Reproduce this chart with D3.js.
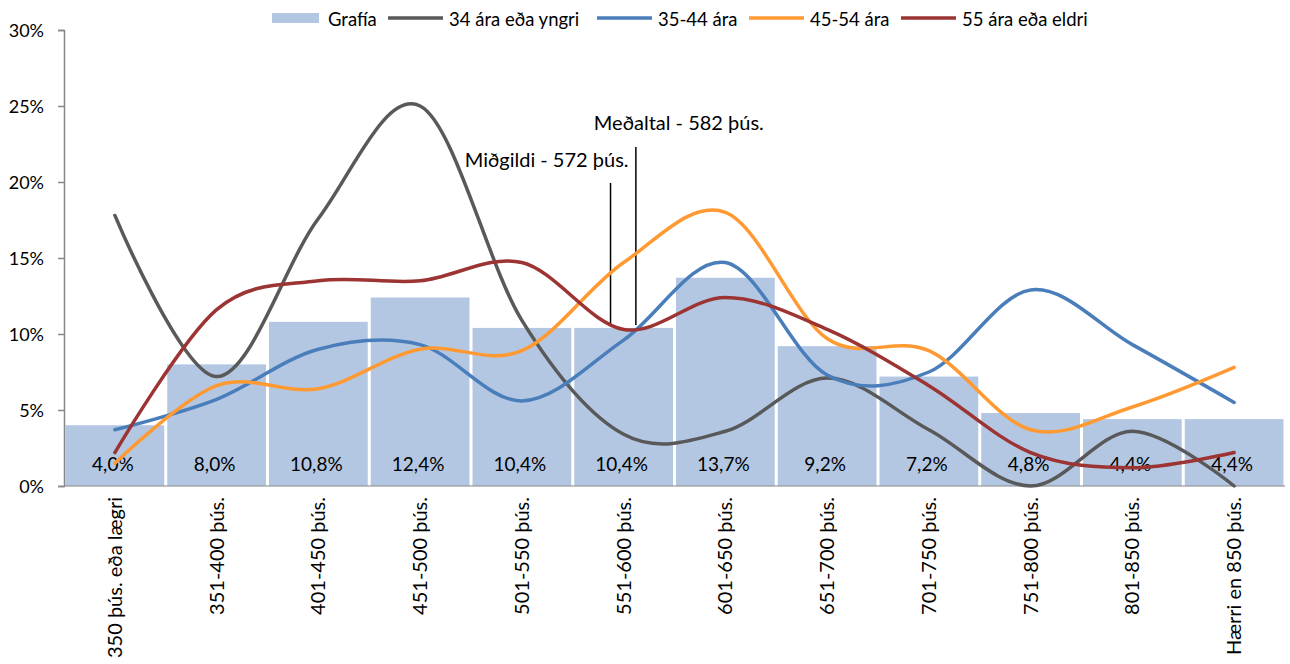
<!DOCTYPE html>
<html>
<head>
<meta charset="utf-8">
<script src="https://cdn.jsdelivr.net/npm/d3@7"></script>
<style>
  body { margin: 0; background: #fff; }
  text { font-family: Lato, "Open Sans", sans-serif; fill: #000; }
</style>
</head>
<body>
<div id="chart"></div>
<script>
var categories = ["350 þús. eða lægri", "351-400 þús.", "401-450 þús.", "451-500 þús.", "501-550 þús.", "551-600 þús.",
  "601-650 þús.", "651-700 þús.", "701-750 þús.", "751-800 þús.", "801-850 þús.", "Hærri en 850 þús."];
var grafia = [4.0, 8.0, 10.8, 12.4, 10.4, 10.4, 13.7, 9.2, 7.2, 4.8, 4.4, 4.4];
var age34 = [17.8, 7.2, 17.6, 25.0, 10.9, 3.4, 3.6, 7.1, 3.7, 0, 3.6, 0];
var age35 = [3.7, 5.7, 9.0, 9.3, 5.6, 9.6, 14.7, 7.3, 7.5, 12.9, 9.3, 5.5];
var age45 = [1.5, 6.6, 6.4, 9.0, 8.9, 14.7, 18.0, 9.7, 8.9, 3.7, 5.2, 7.8];
var age55 = [2.2, 11.6, 13.5, 13.5, 14.7, 10.3, 12.4, 10.3, 6.6, 2.2, 1.2, 2.2];
var yTicks = [0, 5, 10, 15, 20, 25, 30];
var seriesNames = ["34 ára eða yngri", "35-44 ára", "45-54 ára", "55 ára eða eldri"];
var seriesColors = ["#595959", "#4a7ebb", "#ff9a33", "#9b3432"];
var annotations = [
  {label: "Miðgildi - 572 þús.", value: 572},
  {label: "Meðaltal - 582 þús.", value: 582}
];

var W = 1290, H = 664;
var margin = {top: 30, right: 5, bottom: 178, left: 64},
    width = W - margin.left - margin.right,
    height = H - margin.top - margin.bottom;

var svg = d3.select("#chart").append("svg")
  .attr("width", W)
  .attr("height", H);

var g = svg.append("g")
  .attr("transform", "translate(" + margin.left + "," + margin.top + ")");

// Scales
var xc = d3.scaleBand().domain(categories).range([0, width]);
var y = d3.scaleLinear().domain([0, 30]).range([height, 0]);

// bars
g.selectAll(".bar").data(grafia).enter()
  .append("rect")
  .attr("class", "bar")
  .attr("x", function(d, i) { return xc(categories[i]) + 1.5; })
  .attr("width", xc.bandwidth() - 3)
  .attr("y", function(d) { return y(d); })
  .attr("height", function(d) { return height - y(d); })
  .attr("fill", "#b3c7e3");

// bar labels
g.selectAll(".blabel").data(grafia).enter()
  .append("text")
  .attr("x", function(d, i) { return xc(categories[i]) + xc.bandwidth() / 2 - 2; })
  .attr("y", height - 15)
  .attr("text-anchor", "middle")
  .style("font-size", "19px")
  .text(function(d) { return d.toFixed(1).replace(".", ",") + "%"; });

// axes
var yAxis = d3.axisLeft(y).tickValues(yTicks).tickSize(6).tickPadding(14)
  .tickFormat(function(d) { return d + "%"; });
var ya = g.append("g").attr("class", "y axis").call(yAxis);
ya.select(".domain").attr("stroke", "#868686").attr("stroke-width", 1.5);
ya.selectAll(".tick line").attr("stroke", "#868686").attr("stroke-width", 1.5);
ya.selectAll(".tick text").style("font-size", "18px").style("font-family", "Lato, sans-serif").attr("dy", "0.36em");

g.append("line")
  .attr("x1", 0).attr("x2", width)
  .attr("y1", height).attr("y2", height)
  .attr("stroke", "#868686").attr("stroke-width", 1);

// x labels
g.selectAll(".xlabel").data(categories).enter()
  .append("text")
  .attr("transform", function(d) {
    return "translate(" + (xc(d) + xc.bandwidth() / 2 + 7) + "," + (height + 11) + ") rotate(-90)";
  })
  .attr("text-anchor", "end")
  .style("font-size", "20px")
  .text(function(d) { return d; });

// annotations
var band5 = categories[5];
var xv = d3.scaleLinear().domain([550, 600]).range([xc(band5), xc(band5) + xc.bandwidth()]);
var annTop = [153, 117];
var annX = [-7, -2];
annotations.forEach(function(a, i) {
  var px = xv(a.value) + annX[i];
  g.append("line")
    .attr("x1", px).attr("x2", px)
    .attr("y1", annTop[i]).attr("y2", 295)
    .attr("stroke", "#000").attr("stroke-width", 1.5);
});
g.append("text").attr("x", xv(572) + 11).attr("y", 137).attr("text-anchor", "end")
  .style("font-size", "20px").text(annotations[0].label);
g.append("text").attr("x", xv(582) - 44).attr("y", 100).attr("text-anchor", "start")
  .style("font-size", "20px").text(annotations[1].label);

// lines
var line = d3.line().curve(d3.curveCatmullRom.alpha(0))
  .x(function(d, i) { return xc(categories[i]) + xc.bandwidth() / 2; })
  .y(function(d) { return y(d); });

var series = [age34, age35, age45, age55];
g.selectAll(".line").data(series).enter()
  .append("path")
  .attr("class", "line")
  .attr("d", function(d) { return line(d); })
  .attr("stroke", function(d, i) { return seriesColors[i]; })
  .attr("stroke-width", 3.5)
  .attr("stroke-linecap", "round")
  .attr("fill", "none");

// legend
var legend = svg.append("g").attr("transform", "translate(0,18)");
legend.append("rect").attr("x", 272).attr("y", -5).attr("width", 47).attr("height", 10).attr("fill", "#b3c7e3");
legend.append("text").attr("x", 328).attr("y", 8).style("font-size", "18.5px").text("Grafía");
var legX = [388, 597, 749, 901];
seriesNames.forEach(function(n, i) {
  legend.append("line")
    .attr("x1", legX[i]).attr("x2", legX[i] + 55)
    .attr("y1", 0).attr("y2", 0)
    .attr("stroke", seriesColors[i]).attr("stroke-width", 3.5);
  legend.append("text").attr("x", legX[i] + 61).attr("y", 8).style("font-size", "18.5px").text(n);
});
</script>
</body>
</html>
